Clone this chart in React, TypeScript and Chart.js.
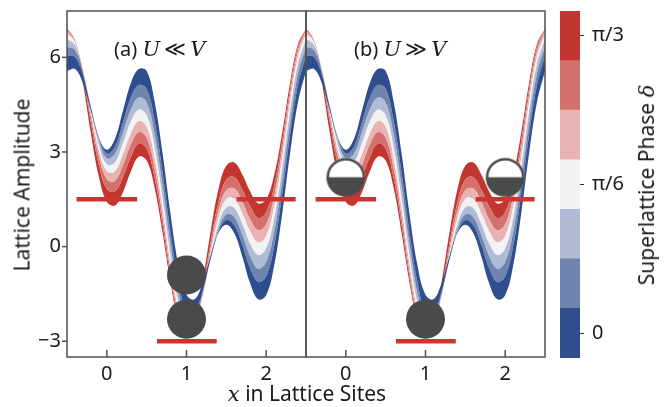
import React, { useEffect, useRef } from 'react';
import { Chart, registerables } from 'chart.js';
Chart.register(...registerables);

// ---------- data ----------
// x positions (lattice sites) at which the band edges are sampled
const X_SITES = [-0.5, -0.4, -0.3, -0.2, -0.1, 0, 0.1, 0.2, 0.3, 0.4, 0.5, 0.6, 0.7, 0.8, 0.9, 1.0,
  1.1, 1.2, 1.3, 1.4, 1.5, 1.6, 1.7, 1.8, 1.9, 2.0, 2.1, 2.2, 2.3, 2.4, 2.5];

// lattice amplitude along the edges of the seven colour bands, from δ = 0 (edge0) to δ = π/3 (edge7)
const edge0 = [5.57, 5.63, 5.17, 4.30, 3.45, 3.07, 3.40, 4.28, 5.17, 5.63, 5.57,
  4.59, 2.95, 1.02, -0.61, -1.53, -1.67, -1.17, -0.31, 0.42, 0.69,
  0.42, -0.31, -1.17, -1.67, -1.54, -0.61, 1.02, 2.95, 4.59, 5.57];
const edge1 = [6.05, 6.01, 5.42, 4.41, 3.45, 2.95, 3.16, 3.92, 4.71, 5.12, 5.00,
  3.99, 2.34, 0.44, -1.14, -2.00, -2.04, -1.41, -0.42, 0.45, 0.84,
  0.68, 0.06, -0.69, -1.12, -0.94, 0.01, 1.64, 3.54, 5.13, 6.05];
const edge2 = [6.34, 6.23, 5.53, 4.42, 3.37, 2.80, 2.94, 3.61, 4.34, 4.73, 4.58,
  3.56, 1.92, 0.06, -1.48, -2.29, -2.24, -1.52, -0.42, 0.54, 1.02,
  0.93, 0.37, -0.31, -0.70, -0.49, 0.46, 2.06, 3.93, 5.49, 6.34];
const edge3 = [6.58, 6.39, 5.58, 4.37, 3.24, 2.61, 2.67, 3.27, 3.96, 4.34, 4.17,
  3.16, 1.54, -0.28, -1.77, -2.52, -2.39, -1.56, -0.37, 0.70, 1.24,
  1.22, 0.72, 0.09, -0.27, -0.06, 0.88, 2.45, 4.28, 5.79, 6.58];
const edge4 = [6.74, 6.50, 5.58, 4.27, 3.07, 2.39, 2.39, 2.92, 3.59, 3.98, 3.81,
  2.81, 1.22, -0.56, -2.00, -2.68, -2.48, -1.56, -0.26, 0.88, 1.51,
  1.51, 1.06, 0.48, 0.13, 0.34, 1.25, 2.78, 4.57, 6.02, 6.74];
const edge5 = [6.86, 6.54, 5.52, 4.11, 2.86, 2.14, 2.08, 2.57, 3.23, 3.63, 3.46,
  2.49, 0.94, -0.79, -2.17, -2.79, -2.51, -1.49, -0.10, 1.12, 1.79,
  1.84, 1.42, 0.86, 0.52, 0.71, 1.59, 3.07, 4.81, 6.20, 6.86];
const edge6 = [6.92, 6.53, 5.41, 3.91, 2.59, 1.83, 1.75, 2.19, 2.83, 3.27, 3.11,
  2.18, 0.68, -0.98, -2.30, -2.85, -2.48, -1.38, 0.11, 1.40, 2.13,
  2.20, 1.80, 1.27, 0.91, 1.09, 1.92, 3.33, 5.01, 6.35, 6.92];
const edge7 = [6.91, 6.43, 5.19, 3.59, 2.22, 1.42, 1.30, 1.71, 2.37, 2.85, 2.73,
  1.86, 0.43, -1.15, -2.37, -2.83, -2.37, -1.15, 0.43, 1.80, 2.57,
  2.67, 2.29, 1.75, 1.37, 1.49, 2.26, 3.59, 5.19, 6.43, 6.91];
const EDGES = [edge0, edge1, edge2, edge3, edge4, edge5, edge6, edge7];

// energy levels (red bars): start, end, height
const LEVEL_X0 = [-0.38, 1.63, 0.63];
const LEVEL_X1 = [0.38, 2.37, 1.38];
const LEVEL_Y = [1.5, 1.5, -3];

// particles
const BALLS_A_X = [1, 1];
const BALLS_A_Y = [-0.9, -2.3];
const BALLS_B_X = [1];
const BALLS_B_Y = [-2.3];
const HALF_B_X = [0, 2];
const HALF_B_Y = [2.2, 2.2];

// axes
const X_TICKS = [0, 1, 2];
const Y_TICKS = [-3, 0, 3, 6];
const PHASE_CENTERS = [0, 0.1745, 0.3491, 0.5236, 0.6981, 0.8727, 1.0472];
const CB_TICKS = [0, 0.5236, 1.0472];
const CB_LABELS = ['0', 'π/6', 'π/3'];

// ---------- styles ----------
const W = 667, H = 407;
const BAND_COLORS = ['#2e4e8f', '#6f84ae', '#b0bcd5', '#f3f3f3', '#e8b3b2', '#d5716d', '#c3352f'];
const RED = '#c8372f';
const DARK = '#4a4a4a';
const SPINE = '#505050';
const tickFont = { family: 'Noto Sans', size: 20 };

function halfBall(r: number) {
  const size = Math.ceil(2 * r + 4);
  const c = document.createElement('canvas');
  c.width = size; c.height = size;
  const g = c.getContext('2d')!;
  const cx = size / 2;
  g.fillStyle = '#fff'; g.beginPath(); g.arc(cx, cx, r, 0, 2 * Math.PI); g.fill();
  g.fillStyle = DARK; g.beginPath(); g.arc(cx, cx, r, 0, Math.PI); g.closePath(); g.fill();
  g.strokeStyle = DARK; g.lineWidth = 2.5; g.beginPath(); g.arc(cx, cx, r - 1.25, 0, 2 * Math.PI); g.stroke();
  return c;
}

const framePlugin = {
  id: 'frame',
  afterDatasetsDraw(chart: any) {
    const ctx = chart.ctx;
    const ya = chart.scales.y;
    const { top, bottom, left } = chart.chartArea;
    ctx.save();
    ctx.strokeStyle = SPINE; ctx.lineWidth = 1.5;
    for (const id of ['xa', 'xb']) {
      const sc = chart.scales[id];
      ctx.strokeRect(sc.left, top, sc.right - sc.left, bottom - top);
      for (const v of X_TICKS) {
        const px = sc.getPixelForValue(v);
        ctx.beginPath(); ctx.moveTo(px, bottom); ctx.lineTo(px, bottom - 7); ctx.stroke();
      }
    }
    for (const v of Y_TICKS) {
      const py = ya.getPixelForValue(v);
      ctx.beginPath(); ctx.moveTo(left - 5, py); ctx.lineTo(left, py); ctx.stroke();
    }
    ctx.restore();
  }
};

const pts = (xs: number[], ys: number[]) => xs.map((x, i) => ({ x, y: ys[i] }));
const noPad = (s: any) => { s.paddingTop = 0; s.paddingBottom = 0; s.paddingLeft = 0; s.paddingRight = 0; };

export default function App() {
  const mainRef = useRef<HTMLCanvasElement>(null);
  const cbRef = useRef<HTMLCanvasElement>(null);
  useEffect(() => {
    const datasets: any[] = [];
    for (const axis of ['xa', 'xb']) {
      EDGES.forEach((edge, k) => {
        datasets.push({
          data: pts(X_SITES, edge), xAxisID: axis, yAxisID: 'y', order: 10,
          fill: k === 0 ? false : '-1', backgroundColor: BAND_COLORS[k - 1] || 'transparent',
          borderWidth: 0, pointRadius: 0, tension: 0.4,
        });
      });
      LEVEL_Y.forEach((y, i) => {
        datasets.push({
          data: [{ x: LEVEL_X0[i], y }, { x: LEVEL_X1[i], y }], xAxisID: axis, yAxisID: 'y', order: 3,
          borderColor: RED, borderWidth: 4.5, pointRadius: 0, fill: false, borderCapStyle: 'butt',
        });
      });
    }
    const ball = { showLine: false, pointRadius: 19.5, pointBackgroundColor: DARK, pointBorderWidth: 0, order: 1, yAxisID: 'y' };
    datasets.push({ ...ball, data: pts(BALLS_A_X, BALLS_A_Y), xAxisID: 'xa' });
    datasets.push({ ...ball, data: pts(BALLS_B_X, BALLS_B_Y), xAxisID: 'xb' });
    datasets.push({ data: pts(HALF_B_X, HALF_B_Y), xAxisID: 'xb', yAxisID: 'y', order: 1, showLine: false, pointStyle: halfBall(19.3), pointRadius: 19.5 });

    const xScale = () => ({
      type: 'linear', position: 'bottom', stack: 'panels', stackWeight: 1, min: -0.5, max: 2.5,
      afterBuildTicks: (s: any) => { s.ticks = X_TICKS.map(v => ({ value: v })); },
      afterFit: (s: any) => { s.height = 50; noPad(s); },
      grid: { display: false, drawTicks: false }, border: { display: false },
      ticks: { font: tickFont, color: '#1a1a1a', padding: 5, maxRotation: 0 },
    });
    const c1 = new Chart(mainRef.current!, {
      type: 'line',
      data: { datasets },
      options: {
        animation: false, responsive: false, maintainAspectRatio: false,
        layout: { autoPadding: false, padding: { left: 0, top: 11, right: 122, bottom: 0 } },
        plugins: { legend: { display: false }, tooltip: { enabled: false } },
        scales: {
          xa: xScale() as any,
          xb: xScale() as any,
          y: {
            type: 'linear', min: -3.5, max: 7.47,
            afterBuildTicks: (s: any) => { s.ticks = Y_TICKS.map(v => ({ value: v })); },
            afterFit: (s: any) => { s.width = 67; noPad(s); },
            grid: { display: false, drawTicks: false }, border: { display: false },
            ticks: { font: tickFont, color: '#1a1a1a', padding: 6, callback: (v: any) => (v < 0 ? '\u2212' + Math.abs(v) : String(v)) },
          },
        },
      },
      plugins: [framePlugin],
    } as any);

    const half = (PHASE_CENTERS[1] - PHASE_CENTERS[0]) / 2;
    const cbData = BAND_COLORS.map((col, i) => ({
      data: [[PHASE_CENTERS[i] - half, PHASE_CENTERS[i] + half]], backgroundColor: col,
      borderWidth: 0, barPercentage: 1, categoryPercentage: 1, grouped: false,
    }));
    const c2 = new Chart(cbRef.current!, {
      type: 'bar',
      data: { labels: ['δ'], datasets: cbData },
      options: {
        animation: false, responsive: false, maintainAspectRatio: false,
        layout: { autoPadding: false, padding: { left: 20, top: 11, right: 0, bottom: 49 } },
        plugins: { legend: { display: false }, tooltip: { enabled: false } },
        scales: {
          x: { display: false },
          y: {
            position: 'right', min: PHASE_CENTERS[0] - half, max: PHASE_CENTERS[6] + half,
            afterBuildTicks: (s: any) => { s.ticks = CB_TICKS.map(v => ({ value: v })); },
            afterFit: (s: any) => { s.width = 87; noPad(s); },
            grid: { display: true, drawOnChartArea: false, drawTicks: true, tickLength: 4, color: '#333' },
            border: { display: false },
            ticks: { font: tickFont, color: '#1a1a1a', padding: 8, callback: (_v: any, i: number) => CB_LABELS[i] },
          },
        },
      },
    } as any);
    return () => { c1.destroy(); c2.destroy(); };
  }, []);

  const txt: React.CSSProperties = { position: 'absolute', fontFamily: 'Noto Sans', fontSize: 21, color: '#1a1a1a', whiteSpace: 'nowrap', lineHeight: 1 };
  const math: React.CSSProperties = { fontFamily: 'DejaVu Serif', fontStyle: 'italic', fontSize: 21 };
  const rel: React.CSSProperties = { fontFamily: 'DejaVu Serif', fontSize: 21, margin: '0 4px' };
  return (
    <div style={{ position: 'fixed', left: 0, top: 0, width: W, height: H, background: '#fff', overflow: 'hidden' }}>
      <canvas ref={mainRef} width={W} height={H} style={{ position: 'absolute', left: 0, top: 0, width: W, height: H }} />
      <canvas ref={cbRef} width={127} height={H} style={{ position: 'absolute', left: 540, top: 0, width: 127, height: H }} />
      <div style={{ ...txt, fontSize: 20, left: 114, top: 39 }}>(a) <span style={math}>U</span><span style={rel}>≪</span><span style={math}>V</span></div>
      <div style={{ ...txt, fontSize: 20, left: 354, top: 39 }}>(b) <span style={math}>U</span><span style={rel}>≫</span><span style={math}>V</span></div>
      <div style={{ ...txt, left: 307, top: 394, transform: 'translate(-50%, -50%)' }}><span style={math}>x</span> in Lattice Sites</div>
      <div style={{ ...txt, left: 22, top: 185, transform: 'translate(-50%, -50%) rotate(-90deg)' }}>Lattice Amplitude</div>
      <div style={{ ...txt, left: 647, top: 185, transform: 'translate(-50%, -50%) rotate(-90deg)' }}>Superlattice Phase <span style={math}>δ</span></div>
    </div>
  );
}
